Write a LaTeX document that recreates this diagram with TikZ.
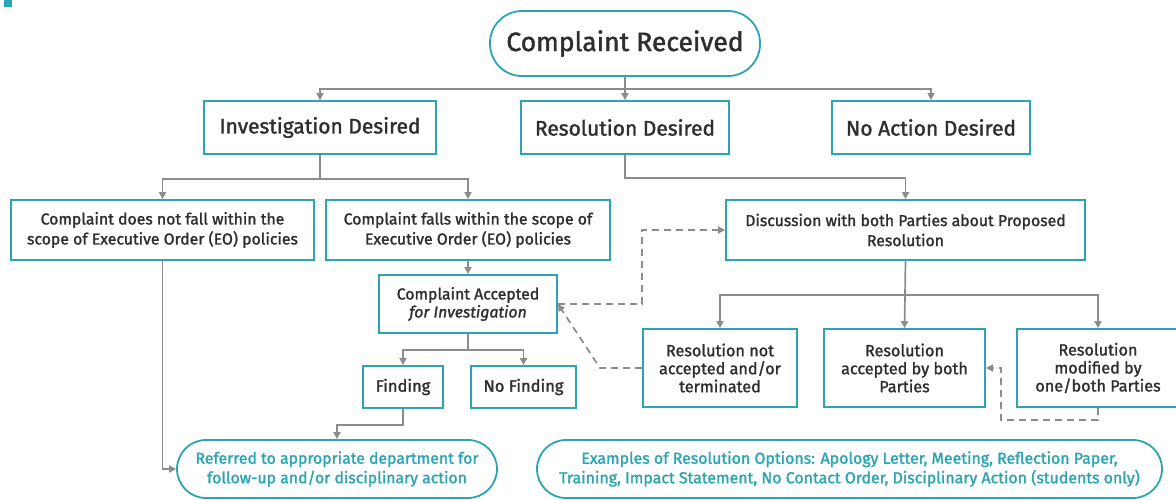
\documentclass[tikz,border=0pt]{standalone}
\usepackage{fontspec}
\setmainfont{Fira Sans}[FakeBold=1.5]
\usetikzlibrary{arrows.meta}
\definecolor{tealc}{HTML}{2BA5B5}
\definecolor{txtc}{HTML}{2E2E2E}
\definecolor{connc}{HTML}{8C8C8C}
\tikzset{
  box/.style={draw=tealc, line width=1.8pt, fill=white, text=txtc, align=center, inner sep=0pt},
  pill/.style={box, rounded corners=29pt, text=tealc},
  ln/.style={draw=connc, line width=1.7pt},
  arr/.style={ln, -{Triangle[length=7pt,width=7pt]}},
  darr/.style={arr, dash pattern=on 7pt off 5pt},
}
\begin{document}
\begin{tikzpicture}[x=1pt,y=-1pt]
\useasboundingbox (0,0) rectangle (1176,499);
\fill[tealc] (4,0) rectangle (12,7);
% nodes
\node[pill, text=txtc, rounded corners=32pt, minimum width=270, minimum height=65, font=\fontsize{26.5}{28}\selectfont] (cr) at (625,43.5) {Complaint Received};
\node[box, minimum width=232, minimum height=53, font=\fontsize{21}{23}\selectfont] (inv) at (320,127.5) {Investigation Desired};
\node[box, minimum width=208, minimum height=53, font=\fontsize{21}{23}\selectfont] (res) at (625,127.5) {Resolution Desired};
\node[box, minimum width=198, minimum height=53, font=\fontsize{21}{23}\selectfont] (noa) at (931,127.5) {No Action Desired};
\node[box, minimum width=303, minimum height=60, font=\fontsize{15.8}{20}\selectfont] (nf) at (162.5,230) {Complaint does not fall within the\\scope of Executive Order (EO) policies};
\node[box, minimum width=284, minimum height=60, font=\fontsize{15.8}{20}\selectfont] (fw) at (468,230) {Complaint falls within the scope of\\Executive Order (EO) policies};
\node[box, minimum width=359, minimum height=60, font=\fontsize{15.8}{20}\selectfont] (disc) at (905.5,230) {Discussion with both Parties about Proposed\\Resolution};
\node[box, minimum width=178, minimum height=58, font=\fontsize{15.8}{18}\selectfont] (acc) at (468,304) {Complaint Accepted\\\textit{for Investigation}};
\node[box, minimum width=80, minimum height=42, font=\fontsize{16.5}{19}\selectfont] (fin) at (403,387) {Finding};
\node[box, minimum width=105, minimum height=42, font=\fontsize{16.5}{19}\selectfont] (nofin) at (523.5,387) {No Finding};
\node[box, minimum width=154, minimum height=78, font=\fontsize{16.2}{18}\selectfont] (notacc) at (720,368) {Resolution not\\accepted and/or\\terminated};
\node[box, minimum width=161, minimum height=78, font=\fontsize{16.2}{18}\selectfont] (accb) at (904.5,368) {Resolution\\accepted by both\\Parties};
\node[box, minimum width=162, minimum height=78, font=\fontsize{16.2}{18}\selectfont] (mod) at (1098,368) {Resolution\\modified by\\one/both Parties};
\node[pill, minimum width=320, minimum height=58, font=\fontsize{15.8}{19.5}\selectfont] (ref) at (337,469) {Referred to appropriate department for\\follow-up and/or disciplinary action};
\node[pill, minimum width=625, minimum height=58, font=\fontsize{15.9}{19.5}\selectfont] (ex) at (849.5,469) {Examples of Resolution Options: Apology Letter, Meeting, Reflection Paper,\\Training, Impact Statement, No Contact Order, Disciplinary Action (students only)};
% junctions
\coordinate (j1) at (625,89);
\coordinate (j2) at (320,179);
\coordinate (j3) at (625,178);
\coordinate (j4) at (468,350);
\coordinate (j5) at (403,425);
\coordinate (j6) at (905,295);
\coordinate (d1) at (642,230);
\coordinate (d2) at (600,368);
\coordinate (d3) at (1098,420);
\coordinate (d4) at (1001,420);
% connectors
\draw[ln] (cr.south) -- (j1);
\draw[arr] (j1) -| (inv.north);
\draw[arr] (j1) -- (res.north);
\draw[arr] (j1) -| (noa.north);
\draw[ln] (inv.south) -- (j2);
\draw[arr] (j2) -| (nf.north);
\draw[arr] (j2) -| (fw.north);
\draw[arr] (res.south) -- (j3) -| (disc.north);
\draw[arr] (fw.south) -- (acc.north);
\draw[ln] (acc.south) -- (j4);
\draw[arr] (j4) -| (fin.north);
\draw[arr] (j4) -| (nofin.north);
\draw[arr] (fin.south) -- (j5) -| (ref.north);
\draw[arr] (nf.south) |- (ref.west);
\draw[ln] (disc.south) -- (j6);
\draw[arr] (j6) -| (notacc.north);
\draw[arr] (j6) -- (accb.north);
\draw[arr] (j6) -| (mod.north);
\draw[darr] (acc.east) -| (d1) -- (disc.west);
\draw[darr] (notacc.west) -- (d2) -- (acc.east);
\draw[darr] (mod.south) -- (d3) -- (d4) |- (accb.east);
\end{tikzpicture}
\end{document}
